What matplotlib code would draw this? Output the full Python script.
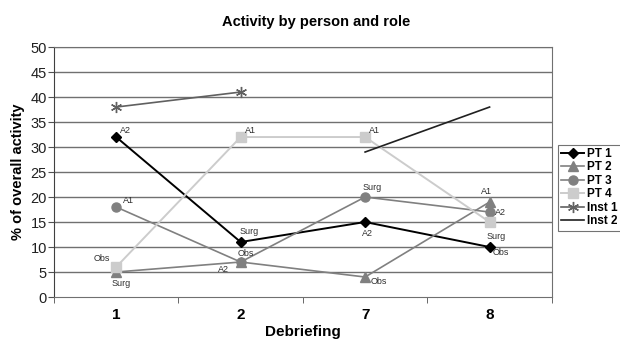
import numpy as np
import matplotlib.pyplot as plt
from matplotlib.ticker import FixedLocator, NullFormatter

plt.rcParams["font.family"] = ["Liberation Sans", "DejaVu Sans"]

# data
debriefings = ["1", "2", "7", "8"]
pt1 = [32, 11, 15, 10]
pt2 = [5, 7, 4, 19]
pt3 = [18, 7, 20, 17]
pt4 = [6, 32, 32, 15]
inst1 = [38, 41, np.nan, np.nan]
inst2 = [np.nan, np.nan, 29, 38]

pt1_roles = ["A2", "Surg", "A2", "Obs"]
pt2_roles = ["Surg", "A2", "Obs", "A1"]
pt3_roles = ["A1", "Obs", "Surg", "A2"]
pt4_roles = ["Obs", "A1", "A1", "Surg"]

x = np.arange(1, len(debriefings) + 1)

fig = plt.figure(figsize=(6.2, 3.41), dpi=100)
ax = fig.add_axes([0.087, 0.129, 0.803, 0.733])

ax.set_ylim(0, 50)
ax.set_xlim(0.5, 4.5)
ax.set_yticks(range(0, 51, 5))
for y in range(5, 51, 5):
    ax.axhline(y, color="#707070", lw=1.0, zorder=1)

styles = [
    ("PT 1", pt1, dict(color="black", marker="D", ms=5.5, lw=1.4)),
    ("PT 2", pt2, dict(color="#808080", marker="^", ms=6.5, lw=1.2)),
    ("PT 3", pt3, dict(color="#808080", marker="o", ms=6.5, lw=1.2)),
    ("PT 4", pt4, dict(color="#cccccc", marker="s", ms=6.5, lw=1.4)),
    ("Inst 1", inst1, dict(color="#606060", marker=(6, 2, 0), ms=8, lw=1.2)),
    ("Inst 2", inst2, dict(color="#202020", marker=None, lw=1.2)),
]
for name, vals, kw in styles:
    ax.plot(x, vals, label=name, zorder=3, **kw)

# role annotations, offsets in points
ann = [
    (pt1, pt1_roles, [(3, 3), (-1, 6), (-2, -10), (2, -6)]),
    (pt2, pt2_roles, [(-3, -10), (-16, -7), (4, -5), (-6, 6)]),
    (pt3, pt3_roles, [(5, 3), (-2, 4), (-2, 5), (4, -2)]),
    (pt4, pt4_roles, [(-16, 4), (3, 3), (3, 3), (-2, -12)]),
]
for vals, roles, offs in ann:
    for xi, v, r, o in zip(x, vals, roles, offs):
        ax.annotate(r, (xi, v), xytext=o, textcoords="offset points",
                    fontsize=6.5, color="#303030", zorder=4)

ax.set_xticks(x)
ax.set_xticklabels(debriefings, fontsize=11, fontweight="bold")
ax.tick_params(axis="x", which="major", length=0, pad=8)
ax.xaxis.set_minor_locator(FixedLocator(np.arange(0.5, 4.6, 1)))
ax.xaxis.set_minor_formatter(NullFormatter())
ax.tick_params(axis="x", which="minor", length=4, color="#505050")
ax.tick_params(axis="y", labelsize=10.5, length=4, color="#505050",
               labelcolor="#202020", pad=1)

for side in ["top", "right", "bottom"]:
    ax.spines[side].set_color("#707070")
ax.spines["left"].set_color("#404040")

ax.set_xlabel("Debriefing", fontsize=11, fontweight="bold", labelpad=2)
ax.set_ylabel("% of overall activity", fontsize=10.5, fontweight="bold", labelpad=4)
fig.text(0.51, 0.925, "Activity by person and role", ha="center",
         fontsize=10.5, fontweight="bold")

leg = ax.legend(loc="upper left", bbox_to_anchor=(1.012, 0.61), frameon=True,
                fancybox=False, edgecolor="#505050",
                prop={"weight": "bold", "size": 8.5}, handlelength=1.9,
                handletextpad=0.25, labelspacing=0.12, borderpad=0.3,
                borderaxespad=0)
leg.get_frame().set_linewidth(0.8)

fig.savefig("out.png", dpi=100)
